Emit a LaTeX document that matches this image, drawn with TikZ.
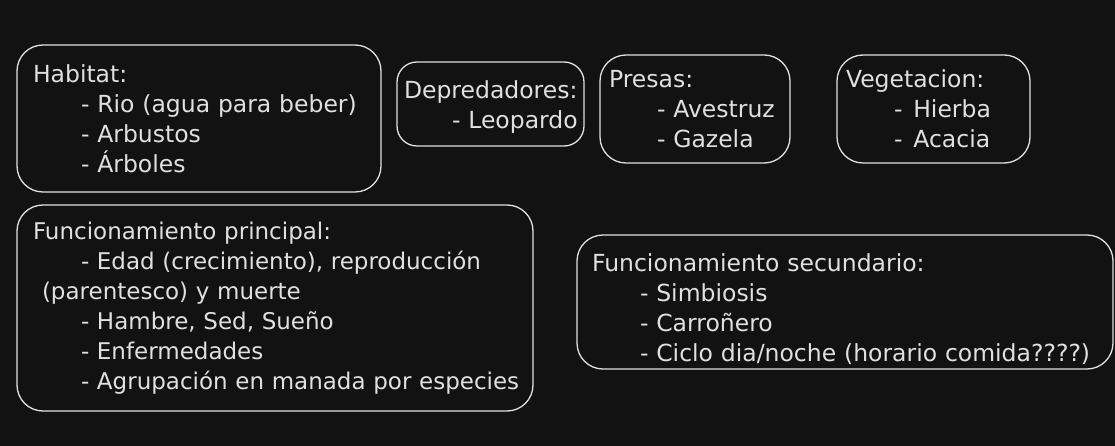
\documentclass[tikz,border=0pt]{standalone}
\usepackage{fontspec}
\setmainfont{DejaVu Sans}
\definecolor{bg}{HTML}{121212}
\definecolor{ink}{HTML}{E0E0E0}
\newcommand{\bul}[1]{\mbox{\hspace*{48pt}- #1}}
\begin{document}
\begin{tikzpicture}[x=1pt,y=-1pt,card/.style = {draw=ink, text=ink, line width=1.3pt, rounded corners=26pt, align=left, inner ysep=0pt, font=\fontsize{23.5}{30}\selectfont}]
        \fill[bg] (0,0) rectangle (1115,446);
        \useasboundingbox (0,0) rectangle (1115,446);
        \node[card, text width=332pt, inner xsep=16pt, minimum height=147pt] (habitat) at (199,118.5) {Habitat:\\ \bul{Rio (agua para beber)}\\ \bul{Arbustos}\\ \bul{Árboles}};
        \node[card, rounded corners=20pt, text width=173pt, inner xsep=7pt, minimum height=84pt] (depredadores) at (490.5,104) {\rule{0pt}{24pt}Depredadores:\\ \bul{Leopardo}};
        \node[card, text width=172pt, inner xsep=9pt, minimum height=108pt] (presas) at (695,109) {Presas:\\ \bul{Avestruz}\\ \bul{Gazela}};
        \node[card, text width=175pt, inner xsep=9pt, minimum height=108pt] (vegetacion) at (933.5,109) {Vegetacion:\\ \bul{\hspace*{3pt}Hierba}\\ \bul{\hspace*{3pt}Acacia}};
        \node[card, font=\fontsize{23}{30}\selectfont, text width=484pt, inner xsep=16pt, minimum height=206pt] (principal) at (275,308) {Funcionamiento principal:\\ \bul{Edad (crecimiento), reproducción}\\ \mbox{\hspace*{9pt}(parentesco) y muerte}\\ \bul{Hambre, Sed, Sueño}\\ \bul{Enfermedades}\\ \bul{Agrupación en manada por especies}};
        \node[card, text width=506pt, inner xsep=15pt, minimum height=134pt] (secundario) at (845,302) {\rule{0pt}{32pt}Funcionamiento secundario:\\ \bul{Simbiosis}\\ \bul{Carroñero}\\ \bul{Ciclo dia/noche (horario comida????)}};
        %\draw (habitat) -- (principal);
        \end{tikzpicture}
\end{document}
